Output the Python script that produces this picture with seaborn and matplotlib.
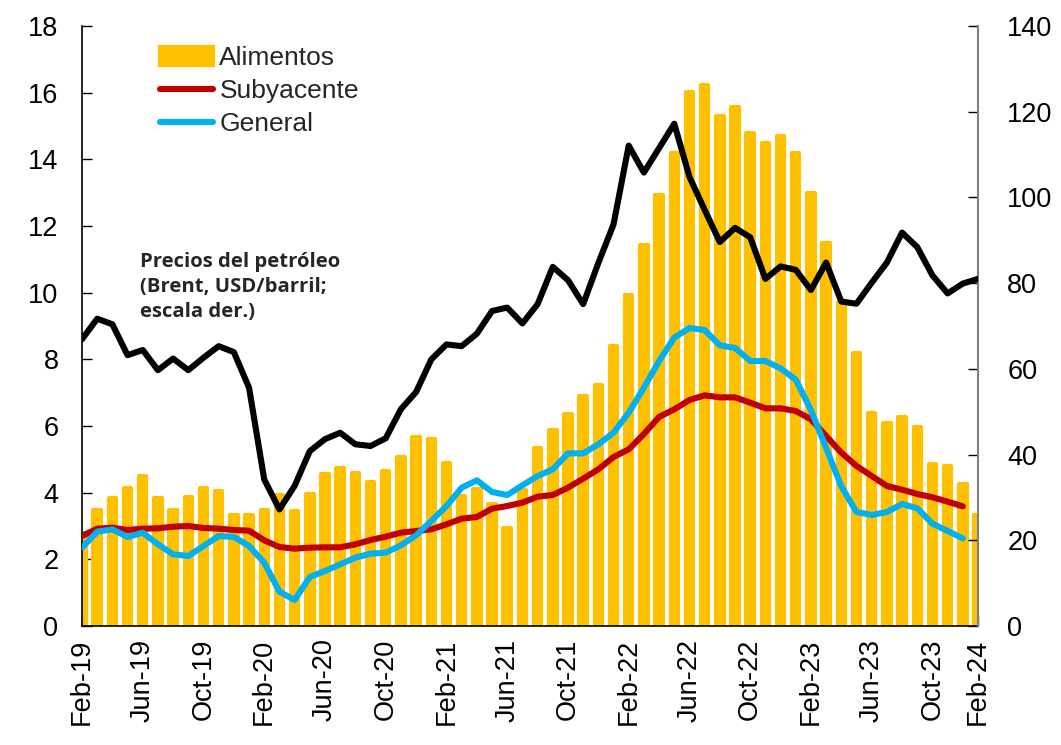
import numpy as np
import pandas as pd
import matplotlib
matplotlib.use("Agg")
import matplotlib.pyplot as plt
from matplotlib.lines import Line2D
from matplotlib.patches import Patch
import seaborn as sns

# ---------------- data ----------------
months = pd.date_range("2019-02-01", periods=60, freq="MS").strftime("%b-%y").tolist()

alimentos = [2.80, 3.47, 3.83, 4.15, 4.50, 3.84, 3.48, 3.88, 4.14, 4.04,
             3.34, 3.34, 3.48, 3.92, 3.44, 3.95, 4.55, 4.73, 4.60, 4.32,
             4.66, 5.06, 5.66, 5.61, 4.88, 3.89, 4.11, 3.66, 2.94, 4.07,
             5.33, 5.88, 6.36, 6.89, 7.23, 8.39, 9.93, 11.43, 12.94, 14.19,
             16.01, 16.24, 15.30, 15.58, 14.80, 14.50, 14.69, 14.20, 13.00, 11.50,
             9.72, 8.19, 6.40, 6.10, 6.26, 5.96, 4.86, 4.81, 4.26, 3.33]

subyacente = [2.70, 2.92, 2.95, 2.88, 2.92, 2.93, 2.98, 3.00, 2.94, 2.92,
              2.88, 2.86, 2.57, 2.37, 2.32, 2.35, 2.36, 2.36, 2.45, 2.58,
              2.68, 2.80, 2.85, 2.90, 3.05, 3.22, 3.27, 3.52, 3.60, 3.70,
              3.88, 3.93, 4.15, 4.42, 4.70, 5.07, 5.30, 5.76, 6.27, 6.50,
              6.78, 6.92, 6.86, 6.86, 6.70, 6.53, 6.53, 6.45, 6.20, 5.70,
              5.20, 4.80, 4.50, 4.20, 4.09, 3.96, 3.86, 3.73, 3.59]

general = [2.35, 2.83, 2.90, 2.67, 2.80, 2.45, 2.15, 2.10, 2.40, 2.70,
           2.67, 2.40, 1.90, 1.03, 0.78, 1.47, 1.65, 1.85, 2.05, 2.17,
           2.20, 2.42, 2.72, 3.15, 3.60, 4.15, 4.37, 4.02, 3.93, 4.22,
           4.50, 4.70, 5.18, 5.18, 5.45, 5.80, 6.40, 7.15, 7.95, 8.65,
           8.94, 8.88, 8.42, 8.34, 7.95, 7.95, 7.73, 7.39, 6.48, 5.34,
           4.19, 3.42, 3.33, 3.42, 3.66, 3.53, 3.07, 2.85, 2.63]

brent = [66.9, 71.7, 70.4, 63.2, 64.4, 59.7, 62.4, 59.7, 62.6, 65.3,
         63.9, 55.6, 34.2, 27.2, 32.7, 40.8, 43.6, 45.1, 42.4, 42.0,
         43.8, 50.6, 54.6, 62.2, 65.7, 65.3, 68.2, 73.5, 74.3, 70.6,
         75.1, 83.8, 80.7, 75.1, 84.7, 93.7, 112.1, 105.8, 111.5, 117.2,
         104.8, 97.1, 89.6, 92.9, 90.7, 81.0, 83.9, 83.1, 78.4, 84.8,
         75.7, 75.2, 80.1, 84.8, 91.8, 88.4, 81.8, 77.6, 79.9, 81.0]

tick_labels = ["Feb-19", "Jun-19", "Oct-19", "Feb-20", "Jun-20", "Oct-20",
               "Feb-21", "Jun-21", "Oct-21", "Feb-22", "Jun-22", "Oct-22",
               "Feb-23", "Jun-23", "Oct-23", "Feb-24"]
tick_pos = [0, 4, 8, 12, 16, 20, 24, 28, 32, 36, 40, 44, 48, 52, 56, 59]

legend_labels = ["Alimentos", "Subyacente", "General"]
annotation = "Precios del petróleo\n(Brent, USD/barril;\nescala der.)"

GOLD = "#FFC000"
RED = "#C00000"
BLUE = "#00B0F0"

# ---------------- plot ----------------
sns.set_theme(style="white")
plt.rcParams["font.family"] = ["Liberation Sans", "DejaVu Sans"]

fig = plt.figure(figsize=(10.61, 7.45), dpi=100)
ax = fig.add_axes([82 / 1061, 1 - 626 / 745, 896 / 1061, 600 / 745])

idx = np.arange(len(alimentos))
df_bar = pd.DataFrame({"i": idx, "v": alimentos})
sns.barplot(data=df_bar, x="i", y="v", ax=ax, color=GOLD, width=0.49,
            saturation=1, native_scale=True, zorder=1)
for p in ax.patches:
    p.set_edgecolor(GOLD)
    p.set_linewidth(3.0)
    p.set_joinstyle("round")

n_l = len(subyacente)
sns.lineplot(x=idx[:n_l], y=subyacente, ax=ax, color=RED, lw=4.4,
             solid_capstyle="round", zorder=3)
sns.lineplot(x=idx[:n_l], y=general, ax=ax, color=BLUE, lw=4.4,
             solid_capstyle="round", zorder=4)

ax.set_xlim(0, 59)
ax.set_ylim(0, 18)
ax.set_yticks(np.arange(0, 19, 2))
ax.set_xticks(tick_pos)
ax.set_xticklabels(tick_labels, rotation=90)
ax.set_xlabel("")
ax.set_ylabel("")

ax2 = ax.twinx()
sns.lineplot(x=idx, y=brent, ax=ax2, color="black", lw=4.4, zorder=5)
ax2.set_ylim(0, 140)
ax2.set_yticks(np.arange(0, 141, 20))
ax2.set_ylabel("")

for a in (ax, ax2):
    a.spines["top"].set_visible(False)
ax.spines["right"].set_visible(False)
ax2.spines["left"].set_visible(False)
ax2.spines["bottom"].set_visible(False)
ax.spines["left"].set_color("black")
ax.spines["bottom"].set_color("black")
ax.spines["left"].set_linewidth(1.2)
ax.spines["bottom"].set_linewidth(1.2)
ax2.spines["right"].set_color("#808080")
ax2.spines["right"].set_linewidth(1.5)

ax.tick_params(axis="y", direction="in", length=7, width=1, colors="black",
               labelsize=19.5, pad=17, left=True)
ax.tick_params(axis="x", direction="in", length=7, width=1, colors="black",
               labelsize=19.5, pad=9, bottom=True)
ax2.tick_params(axis="y", direction="in", length=7, width=1, colors="black",
                labelsize=19.5, pad=21, right=True)

handles = [Patch(facecolor=GOLD, edgecolor=GOLD, linewidth=3, joinstyle="round"),
           Line2D([0], [0], color=RED, lw=4.4, solid_capstyle="round"),
           Line2D([0], [0], color=BLUE, lw=4.4, solid_capstyle="round")]
ax.legend(handles, legend_labels, loc="upper left",
          bbox_to_anchor=((160 - 82) / 896, 0.966), frameon=False,
          fontsize=19, handlelength=2.0, handleheight=0.7, handletextpad=0.25,
          labelspacing=0.33, borderpad=0, borderaxespad=0)

ax.text((140 - 82) / 896, (626 - 252) / 600, annotation, transform=ax.transAxes,
        ha="left", va="top", fontsize=14.6, fontweight="bold",
        family=["Open Sans", "DejaVu Sans"], linespacing=1.33, zorder=10)

fig.savefig("out.png", dpi=100)
